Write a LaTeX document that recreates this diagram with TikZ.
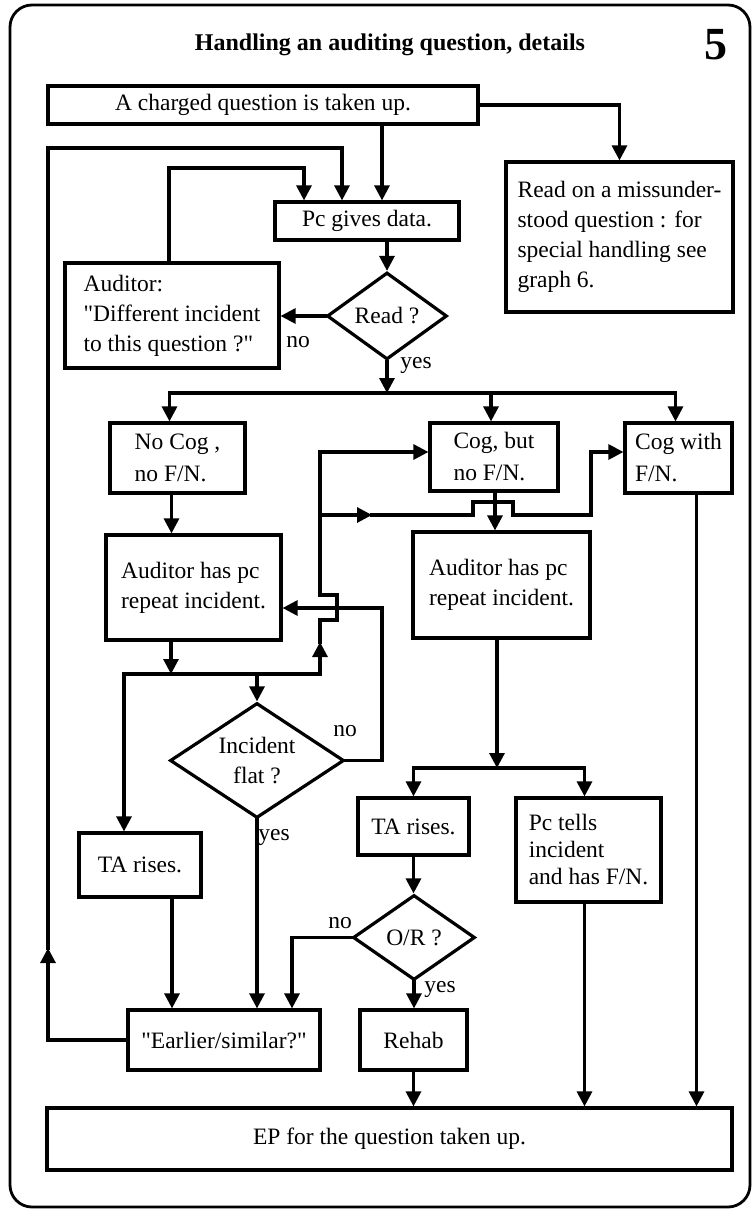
\documentclass[tikz,border=0pt]{standalone}
\usepackage{fontspec}
\setmainfont{Liberation Serif}[Ligatures=TeXOff]
\usetikzlibrary{arrows.meta,shapes.geometric}
\newcommand\bodyfnt{\fontsize{23.5}{30}\selectfont}
\begin{document}
\begin{tikzpicture}[x=1pt,y=-1pt,
  box/.style={draw,line width=3.2pt,inner sep=0pt,align=left,font=\bodyfnt},
  dia/.style={draw,diamond,line width=3.2pt,inner sep=0pt,aspect=1.4,align=center,font=\bodyfnt},
  conn/.style={line width=3.1pt,line cap=rect},
  arr/.style={conn,-{Triangle[length=15pt,width=15pt]}},
  lbl/.style={font=\bodyfnt,inner sep=0pt}]
\useasboundingbox (0,0) rectangle (754,1211);
\draw[line width=2.8pt,rounded corners=22pt] (10,5) rectangle (750,1207);
\node[font=\fontsize{24}{28}\selectfont\bfseries] (title) at (390,45) {Handling an auditing question, details};
\node[font=\fontsize{46}{50}\selectfont\bfseries] (num) at (716,45) {5};

% boxes
\node[box,minimum width=430pt,minimum height=38pt] (charged) at (263,105) {A charged question is taken up.};
\node[box,minimum width=227pt,minimum height=150pt] (readbox) at (619.5,237) {Read on a missunder-\\stood question : for\\special handling see\\graph 6.};
\node[box,minimum width=184pt,minimum height=38pt] (pc) at (367,221) {Pc gives data.};
\node[box,minimum width=214pt,minimum height=105pt] (auditor) at (172,315.5) {Auditor:\\"Different incident\\to this question ?"};
\node[dia,minimum width=120pt,minimum height=87pt] (readd) at (387,316) {Read ?};
\node[box,minimum width=135pt,minimum height=70pt,font=\fontsize{23.5}{32}\selectfont] (nocog) at (177.5,458) {No Cog ,\\no F/N.};
\node[box,minimum width=128pt,minimum height=68pt,font=\fontsize{23.5}{32}\selectfont] (cogbut) at (494,457) {Cog, but\\no F/N.};
\node[box,minimum width=107pt,minimum height=70pt,font=\fontsize{23.5}{32}\selectfont] (cogwith) at (678.5,458) {Cog with\\F/N.};
\node[box,minimum width=175pt,minimum height=105pt] (aud1) at (193.5,587.5) {Auditor has pc\\repeat incident.};
\node[box,minimum width=177pt,minimum height=106pt] (aud2) at (501.5,585) {Auditor has pc\\repeat incident.};
\node[dia,minimum width=174pt,minimum height=115pt] (flat) at (257,760.5) {Incident\\flat ?};
\node[box,minimum width=122pt,minimum height=64pt] (ta1) at (140,865) {TA rises.};
\node[box,minimum width=111pt,minimum height=57pt] (ta2) at (413.5,826.5) {TA rises.};
\node[box,minimum width=145pt,minimum height=104pt,font=\fontsize{23.5}{27}\selectfont] (pctells) at (588.5,850) {Pc tells\\incident\\and has F/N.};
\node[dia,minimum width=122pt,minimum height=85pt] (ord) at (414,937.5) {O/R ?};
\node[box,minimum width=192pt,minimum height=60pt] (earlier) at (224,1040) {"Earlier/similar?"};
\node[box,minimum width=107pt,minimum height=60pt] (rehab) at (413.5,1040) {Rehab};
\node[box,minimum width=685pt,minimum height=62pt] (ep) at (389.5,1139) {EP for the question taken up.};

% labels
\node[lbl] (lno1) at (298,342) {no};
\node[lbl] (lyes1) at (416,365) {yes};
\node[lbl] (lno2) at (345,731) {no};
\node[lbl] (lyes2) at (274,837) {yes};
\node[lbl] (lno3) at (340,923) {no};
\node[lbl] (lyes3) at (440,989) {yes};

% charged -> readbox, pc
\draw[arr] (charged.east) -| (readbox.north);
\draw[arr] ([xshift=15pt]pc.north |- charged.south) -- ([xshift=15pt]pc.north);
% auditor loop back
\coordinate (A1) at (169,168);
\draw[arr] (A1 |- auditor.north) -- (A1) -| ([xshift=-63pt]pc.north);
% earlier loop back
\coordinate (L1) at (48,148);
\coordinate (L2) at (48,948);
\draw[arr] (earlier.west) -| (L2);
\draw[arr] (L2) -- (L1) -| ([xshift=-25pt]pc.north);
% pc -> read
\draw[arr] (readd.north |- pc.south) -- (readd.north);
\draw[arr] (readd.west) -- (readd.west -| auditor.east);
% yes branch
\coordinate (B1) at (387,393);
\draw[arr] (readd.south) -- (B1);
\draw[conn] ([xshift=-8pt]nocog.north |- B1) -- ([xshift=-3pt]cogwith.north |- B1);
\draw[arr] ([xshift=-8pt]nocog.north |- B1) -- ([xshift=-8pt]nocog.north);
\draw[arr] ([xshift=-3pt]cogbut.north |- B1) -- ([xshift=-3pt]cogbut.north);
\draw[arr] ([xshift=-3pt]cogwith.north |- B1) -- ([xshift=-3pt]cogwith.north);
% down from the three boxes
\draw[arr] ([xshift=-6pt]nocog.south) -- ([xshift=-6pt]nocog.south |- aud1.north);
\draw[arr] ([xshift=1pt]cogbut.south) -- ([xshift=1pt]cogbut.south |- aud2.north);
\draw[arr] ([xshift=18pt]cogwith.south) -- ([xshift=18pt]cogwith.south |- ep.north);
% left auditor branch
\coordinate (B2) at (171,674);
\coordinate (B2L) at (124,674);
\coordinate (B2R) at (320,674);
\draw[arr] (B2 |- aud1.south) -- (B2);
\draw[conn] (B2L) -- (B2R);
\draw[arr] (B2L) -- (B2L |- ta1.north);
\draw[arr] (flat.north |- B2) -- (flat.north);
% up loop with hop
\coordinate (U1) at (320,642);
\coordinate (H1) at (320,620);
\coordinate (H2) at (337,620);
\coordinate (H3) at (337,595);
\coordinate (H4) at (320,595);
\coordinate (U2) at (320,515);
\coordinate (U3) at (320,452);
\draw[arr] (B2R) -- (U1);
\draw[arr] (U1) -- (H1) -- (H2) -- (H3) -- (H4) -- (U3) -- (U3 -| cogbut.west);
% right branch with hop
\coordinate (R1) at (372,515);
\coordinate (C2) at (591,452);
\draw[arr] (U2) -- (R1);
\draw[arr] (R1) -- ++(101,0) -- ++(0,-13) -- ++(40,0) -- ++(0,13) -- (C2 |- R1) -- (C2) -- (C2 -| cogwith.west);
% flat no
\coordinate (F1) at (382,608);
\draw[arr] (flat.east) -| (F1) -- (F1 -| aud1.east);
% flat yes
\draw[arr] (flat.south) -- (flat.south |- earlier.north);
\draw[arr] ([xshift=32pt]ta1.south) -- ([xshift=32pt]ta1.south |- earlier.north);
% right auditor branch
\coordinate (B3) at (497,768);
\draw[arr] (B3 |- aud2.south) -- (B3);
\draw[conn] (ta2.north |- B3) -- ([xshift=-4pt]pctells.north |- B3);
\draw[arr] (ta2.north |- B3) -- (ta2.north);
\draw[arr] ([xshift=-4pt]pctells.north |- B3) -- ([xshift=-4pt]pctells.north);
\draw[arr] (ta2.south) -- (ta2.south |- ord.north);
% O/R
\coordinate (O1) at (292,937.5);
\draw[arr] (ord.west) -- (O1) -- (O1 |- earlier.north);
\draw[arr] (ord.south) -- (ord.south |- rehab.north);
\draw[arr] (rehab.south) -- (rehab.south |- ep.north);
\draw[arr] ([xshift=-4pt]pctells.south) -- ([xshift=-4pt]pctells.south |- ep.north);
\end{tikzpicture}
\end{document}
